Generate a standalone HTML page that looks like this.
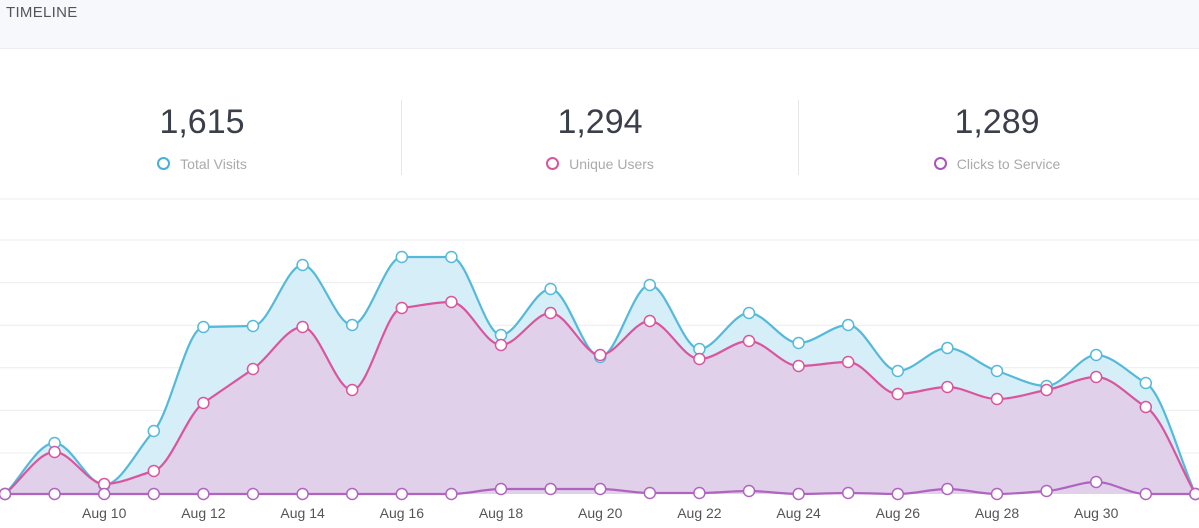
<!DOCTYPE html>
<html><head><meta charset="utf-8"><style>
body{margin:0;width:1199px;height:528px;background:#fff;font-family:"Liberation Sans",sans-serif;overflow:hidden;position:relative}
.hdr{position:absolute;left:0;top:0;width:1199px;height:48px;background:#f7f8fc;border-bottom:1px solid #eceef3}
.hdr span{position:absolute;left:6px;top:4px;font-size:15px;color:#555;letter-spacing:0.3px}
.stat{position:absolute;top:100px;width:398px;text-align:center}
.num{font-size:34px;color:#3a3f4a;line-height:44px}
.lab{font-size:14px;color:#aaa;margin-top:12px}
.lab i{display:inline-block;width:9px;height:9px;border:2px solid;border-radius:50%;vertical-align:-1px;margin-right:10px}
.div{position:absolute;top:100px;width:1px;height:75px;background:#e6e6e6}
svg{position:absolute;left:0;top:0}
</style></head><body>
<div class="hdr"><span>TIMELINE</span></div>
<div class="stat" style="left:3px"><div class="num">1,615</div><div class="lab"><i style="border-color:#45b0d6"></i>Total Visits</div></div>
<div class="div" style="left:401px"></div>
<div class="stat" style="left:401px"><div class="num">1,294</div><div class="lab"><i style="border-color:#d9559e"></i>Unique Users</div></div>
<div class="div" style="left:798px"></div>
<div class="stat" style="left:798px"><div class="num">1,289</div><div class="lab"><i style="border-color:#a855b8"></i>Clicks to Service</div></div>
<svg id="s" width="1199" height="528"></svg>
<script>
const B=[494,443,485,431,327,326,265,325,257,257,335,289,357,285,349,313,343,325,371,348,371,386,355,383,494];
const P=[494,452,484,471,403,369,327,390,308,302,345,313,355,321,359,341,366,362,394,387,399,390,377,407,494];
const C=[494,494,494,494,494,494,494,494,494,494,489,489,489,493,493,491,494,493,494,489,494,491,482,494,494];
const h=49.6,X=i=>5+i*h;
function path(a){const n=a.length,s=[],m=[];
for(let i=0;i<n-1;i++)s.push((a[i+1]-a[i])/h);
for(let i=0;i<n;i++){if(i==0)m.push(s[0]);else if(i==n-1)m.push(s[n-2]);else{const a0=s[i-1],a1=s[i];m.push(a0*a1<=0?0:(Math.sign(a0)*Math.min(Math.abs(a0),Math.abs(a1),0.5*Math.abs((a0+a1)/2)*2)));}}
let d=`M${X(0)},${a[0]}`;
for(let i=0;i<n-1;i++)d+=` C${X(i)+h/3},${a[i]+m[i]*h/3} ${X(i+1)-h/3},${a[i+1]-m[i+1]*h/3} ${X(i+1)},${a[i+1]}`;return d;}
let s='';
for(let y=240;y<=460;y+=42.6)s+=`<line x1="0" x2="1199" y1="${y}" y2="${y}" stroke="#ececec"/>`;
s+=`<line x1="0" x2="1199" y1="199" y2="199" stroke="#ececec"/>`;
const close=`L${X(24)},494 L${X(0)},494Z`;
s+=`<path d="${path(B)}${close}" fill="#d6eef7"/>`;
s+=`<path d="${path(P)}${close}" fill="#e0d0e9"/>`;
[[B,'#55b9da'],[P,'#d9559e'],[C,'#b064c0']].forEach(([a,c])=>{s+=`<path d="${path(a)}" fill="none" stroke="${c}" stroke-width="2.2"/>`;a.forEach((v,i)=>s+=`<circle cx="${X(i)}" cy="${v}" r="5.5" fill="#fff" stroke="${c}" stroke-width="1.5"/>`);});
const L=['Aug 10','Aug 12','Aug 14','Aug 16','Aug 18','Aug 20','Aug 22','Aug 24','Aug 26','Aug 28','Aug 30'];
L.forEach((t,k)=>s+=`<text x="${X(2+2*k)}" y="518" text-anchor="middle" font-size="14" fill="#555" font-family="Liberation Sans, sans-serif">${t}</text>`);
document.getElementById('s').innerHTML=s;
</script>
</body></html>
